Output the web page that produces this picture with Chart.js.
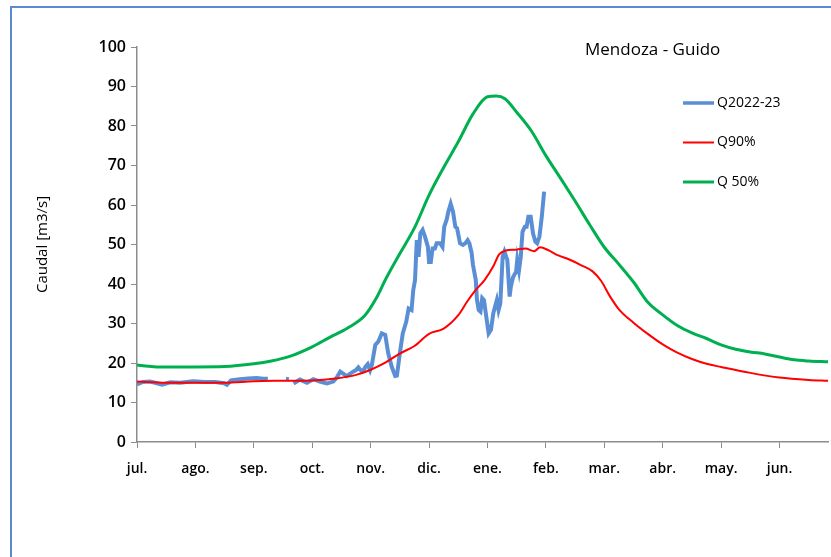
<!DOCTYPE html>
<html>
<head>
<meta charset="utf-8">
<script src="https://cdn.jsdelivr.net/npm/chart.js@4"></script>
<style>
  body { margin: 0; background: #fff; overflow: hidden; }
  .frame { position: absolute; left: 10px; top: 6px; width: 900px; height: 700px; border: 2px solid #5a8ad4; }
  canvas { position: absolute; left: 0; top: 0; }
</style>
</head>
<body>
<div class="frame"></div>
<canvas id="caudal" width="831" height="557"></canvas>
<script>
const months = ['jul.', 'ago.', 'sep.', 'oct.', 'nov.', 'dic.', 'ene.', 'feb.', 'mar.', 'abr.', 'may.', 'jun.'];
const yTicks = [0, 10, 20, 30, 40, 50, 60, 70, 80, 90, 100];

// x in months from 1 July
const q50Months = [0, 0.2, 0.4, 1.0, 1.5, 2.0, 2.3, 2.6, 3.0, 3.3, 3.6, 3.9, 4.1, 4.25, 4.5, 4.75, 5.0, 5.25, 5.5, 5.75, 6.0, 6.15, 6.3, 6.5, 6.75, 7.0, 7.25, 7.5, 7.75, 8.0, 8.25, 8.5, 8.75, 9.0, 9.25, 9.5, 9.75, 10.0, 10.25, 10.5, 10.75, 11.0, 11.25, 11.5, 11.83];
const q50Values = [19.5, 19.2, 19.0, 19.0, 19.1, 19.8, 20.5, 21.6, 24.1, 26.5, 28.8, 32.0, 36.5, 41.0, 47.7, 54.2, 62.5, 69.5, 76.0, 83.0, 87.4, 87.6, 86.9, 83.5, 78.8, 72.5, 66.8, 61.0, 55.0, 49.3, 45.0, 40.5, 35.3, 32.2, 29.5, 27.6, 26.2, 24.6, 23.5, 22.8, 22.3, 21.5, 20.8, 20.5, 20.3];

const q90Months = [0, 0.5, 1.0, 1.5, 2.0, 2.5, 3.0, 3.4, 3.75, 4.0, 4.25, 4.5, 4.75, 5.0, 5.25, 5.5, 5.65, 5.8, 5.95, 6.1, 6.2, 6.3, 6.5, 6.65, 6.8, 6.9, 7.05, 7.2, 7.4, 7.6, 7.8, 7.95, 8.1, 8.25, 8.5, 8.75, 9.0, 9.25, 9.5, 9.75, 10.0, 10.5, 11.0, 11.5, 11.83];
const q90Values = [15.3, 15.0, 15.0, 15.0, 15.4, 15.5, 15.6, 16.1, 17.0, 18.3, 20.1, 22.4, 24.3, 27.4, 28.7, 32.1, 35.5, 38.5, 41.0, 44.5, 47.5, 48.4, 48.7, 49.0, 48.3, 49.3, 48.5, 47.3, 46.2, 44.8, 43.2, 40.7, 36.8, 33.6, 30.2, 27.3, 24.7, 22.6, 21.0, 19.8, 19.0, 17.5, 16.3, 15.7, 15.5];

const obsMonths = [0, 0.10, 0.22, 0.31, 0.43, 0.57, 0.74, 0.96, 1.16, 1.34, 1.49, 1.54, 1.61, 1.76, 1.90, 2.05, 2.16, 2.24, 2.40, 2.55, 2.60, 2.64,
  2.68, 2.79, 2.91, 3.02, 3.13, 3.25, 3.36, 3.42, 3.48, 3.53, 3.59, 3.65, 3.70, 3.75, 3.79, 3.84, 3.88, 3.91, 3.95, 3.99, 4.02, 4.08, 4.13, 4.19, 4.25, 4.30, 4.36, 4.42, 4.45, 4.50, 4.55, 4.61, 4.65, 4.70, 4.73, 4.76, 4.79, 4.82, 4.85, 4.89, 4.93, 4.98, 5.00, 5.03, 5.06, 5.10, 5.13, 5.19, 5.23, 5.26, 5.30, 5.33, 5.37, 5.41, 5.45, 5.48, 5.53, 5.58, 5.62, 5.66, 5.69, 5.73, 5.75, 5.80, 5.82, 5.85, 5.88, 5.91, 5.94, 5.98, 6.02, 6.06, 6.10, 6.16, 6.19, 6.22, 6.26, 6.29, 6.32, 6.34, 6.38, 6.40, 6.44, 6.49, 6.51, 6.54, 6.57, 6.60, 6.64, 6.67, 6.70, 6.74, 6.78, 6.82, 6.85, 6.89, 6.93, 6.97];
const obsValues = [14.6, 15.2, 15.3, 15.0, 14.5, 15.1, 15.0, 15.4, 15.2, 15.2, 14.9, 14.5, 15.6, 15.9, 16.1, 16.2, 16.0, 16.0, null, 16.0, 15.9, null,
  14.8, 15.8, 15.0, 15.9, 15.3, 14.8, 15.3, 16.3, 17.8, 17.3, 16.7, 17.3, 17.8, 18.2, 18.9, 18.0, 18.2, 19.0, 19.7, 18.2, 19.5, 24.6, 25.4, 27.5, 27.1, 22.5, 19.1, 16.7, 16.8, 22.5, 27.5, 30.5, 33.8, 33.4, 38.5, 41.0, 51.1, 46.9, 52.8, 53.7, 52.0, 49.4, 45.6, 45.6, 49.0, 49.0, 50.3, 50.3, 49.4, 54.5, 56.2, 58.3, 60.3, 58.3, 54.5, 54.1, 50.3, 49.9, 50.3, 51.1, 50.3, 47.8, 45.0, 41.0, 36.0, 33.4, 33.0, 36.4, 35.9, 31.7, 27.5, 28.4, 32.6, 35.9, 33.4, 35.1, 46.9, 48.2, 46.9, 46.1, 36.8, 39.3, 41.8, 43.1, 46.1, 43.5, 46.9, 53.2, 54.5, 54.5, 57.0, 57.0, 52.8, 50.7, 50.3, 52.0, 57.0, 63.4];

const pts = (xs, ys) => xs.map((x, i) => ({ x: x, y: ys[i] }));

const font = 'Open Sans';

const overlay = {
  id: 'overlay',
  afterDraw(chart) {
    const c = chart.ctx;
    c.save();
    c.fillStyle = '#000';
    c.textBaseline = 'middle';
    c.textAlign = 'left';
    c.font = '17px "' + font + '"';
    c.fillText('Mendoza - Guido', 585, 50);
    const rows = [0, 1, 2];
    c.font = '14px "' + font + '"';
    rows.forEach(i => {
      const ds = chart.data.datasets[i];
      const y = 103 + i * 39.5;
      c.strokeStyle = ds.borderColor;
      c.lineWidth = i === 0 ? 3.5 : ds.borderWidth;
      c.beginPath();
      c.moveTo(683, y);
      c.lineTo(714, y);
      c.stroke();
      c.fillText(ds.label, 717, y);
    });
    c.restore();
  }
};

new Chart(document.getElementById('caudal'), {
  type: 'line',
  data: {
    datasets: [
      { label: 'Q2022-23', data: pts(obsMonths, obsValues), borderColor: '#5a8fd6', borderWidth: 4, order: 3, spanGaps: false },
      { label: 'Q90%', data: pts(q90Months, q90Values), borderColor: '#ff0000', borderWidth: 2, order: 1, cubicInterpolationMode: 'monotone' },
      { label: 'Q 50%', data: pts(q50Months, q50Values), borderColor: '#00b050', borderWidth: 3, order: 2, cubicInterpolationMode: 'monotone' }
    ]
  },
  options: {
    responsive: false,
    animation: false,
    layout: { padding: { left: 30, top: 47, right: 3, bottom: 0 } },
    elements: { point: { radius: 0 }, line: { tension: 0 } },
    plugins: { legend: { display: false }, tooltip: { enabled: false } },
    scales: {
      x: {
        type: 'linear',
        min: 0,
        max: 11.83,
        afterFit(s) { s.height = 115; },
        ticks: {
          stepSize: 1,
          includeBounds: false,
          autoSkip: false,
          maxRotation: 0,
          padding: 13,
          color: '#000',
          font: { family: font, size: 14, weight: '600' },
          callback: v => months[v]
        },
        grid: { drawOnChartArea: false, tickLength: 6, color: '#8c8c8c' },
        border: { color: '#8c8c8c', width: 1.5 }
      },
      y: {
        min: 0,
        max: 100,
        afterFit(s) { s.width = 107; },
        afterBuildTicks(s) { s.ticks = yTicks.map(v => ({ value: v })); },
        ticks: {
          padding: 5,
          color: '#000',
          font: { family: font, size: 16, weight: '600' }
        },
        title: {
          display: true,
          text: 'Caudal [m3/s]',
          color: '#000',
          padding: 4,
          font: { family: font, size: 15 }
        },
        grid: { drawOnChartArea: false, tickLength: 6, color: '#8c8c8c' },
        border: { color: '#8c8c8c', width: 1.5 }
      }
    }
  },
  plugins: [overlay]
});
</script>
</body>
</html>
